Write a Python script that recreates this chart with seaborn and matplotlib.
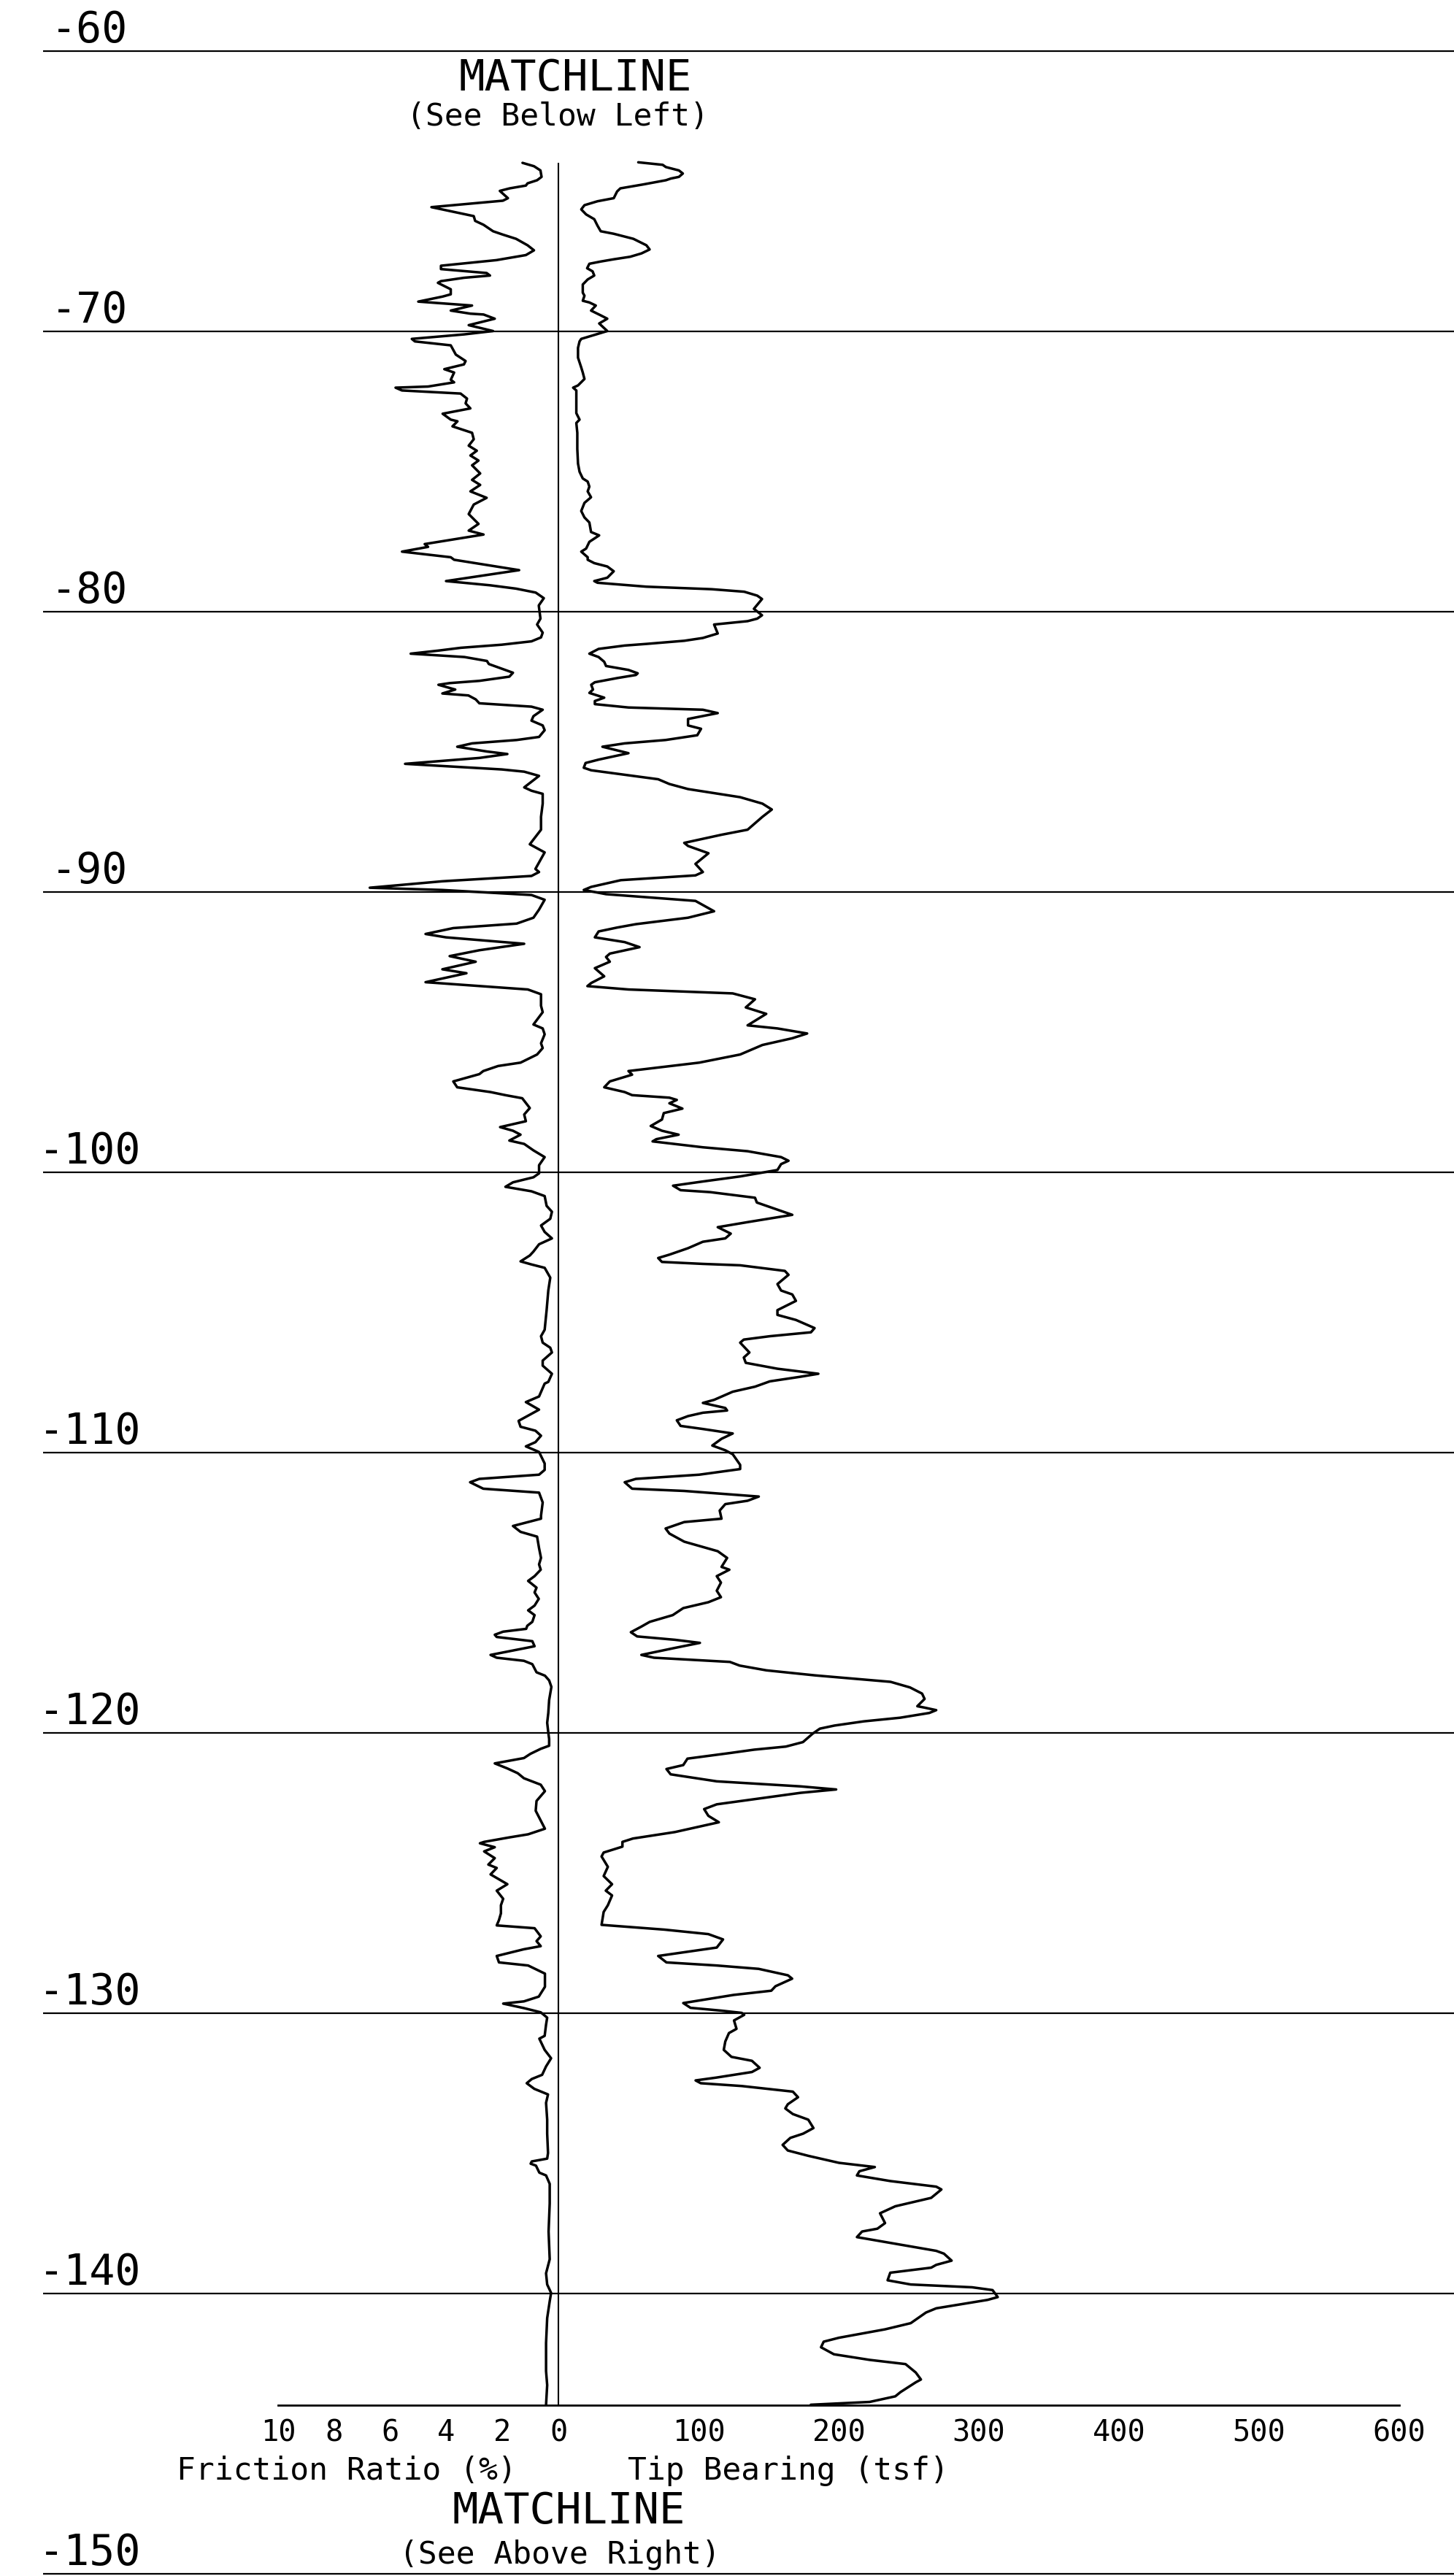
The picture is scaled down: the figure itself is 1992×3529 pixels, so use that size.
import matplotlib
matplotlib.use("Agg")
import matplotlib.pyplot as plt
import seaborn as sns

sns.set_style("white")
plt.rcParams["font.family"] = ["DejaVu Sans Mono", "DejaVu Sans"]
plt.rcParams["text.color"] = "black"

# ---- data (depth in ft, friction ratio in %, tip bearing in tsf) ----
fr_depth = [
    -64.0, -64.12, -64.27, -64.5, -64.62, -64.73, -64.81, -64.91, -65.0, -65.26, -65.35, -65.58,
    -65.9, -66.07, -66.21, -66.44, -66.56, -66.71, -66.94, -67.12, -67.29, -67.47, -67.67, -67.79,
    -67.93, -68.02, -68.1, -68.22, -68.28, -68.51, -68.69, -68.77, -68.95, -69.09, -69.27, -69.38,
    -69.41, -69.56, -69.79, -70.0, -70.12, -70.28, -70.37, -70.51, -70.84, -71.07, -71.19, -71.36,
    -71.48, -71.74, -71.83, -71.98, -72.02, -72.12, -72.23, -72.41, -72.58, -72.76, -72.95, -73.16,
    -73.22, -73.4, -73.63, -73.86, -74.09, -74.27, -74.44, -74.62, -74.79, -75.08, -75.31, -75.49,
    -75.72, -75.95, -76.19, -76.53, -76.88, -77.12, -77.26, -77.6, -77.7, -77.87, -78.07, -78.16,
    -78.53, -78.92, -79.07, -79.19, -79.33, -79.53, -79.79, -80.26,
    -80.47, -80.76, -80.93, -81.07, -81.19, -81.3, -81.4, -81.51, -81.63, -81.77, -81.88, -82.19,
    -82.33, -82.48, -82.56, -82.62, -82.79, -82.93, -83.0, -83.14, -83.28, -83.4, -83.51, -83.74,
    -83.9, -84.07, -84.24, -84.48, -84.59, -84.71, -84.83, -85.0, -85.09, -85.23, -85.44, -85.64,
    -85.72, -85.87, -86.28, -86.4, -86.51, -86.86, -87.33, -87.79, -88.31, -88.6, -89.19, -89.3,
    -89.44, -89.63, -89.86, -89.94, -90.12, -90.29, -90.64, -90.93, -91.14, -91.3, -91.51, -91.63,
    -91.86, -92.09, -92.3, -92.5, -92.77, -92.91, -93.23, -93.49, -93.66, -94.07, -94.3, -94.74,
    -94.88, -95.09, -95.41, -95.58, -95.81, -96.1, -96.22, -96.4, -96.51, -96.77, -96.98, -97.15,
    -97.26, -97.37, -97.72, -97.95, -98.19, -98.4, -98.53, -98.67, -98.88, -99.0, -99.23, -99.47,
    -99.76, -100.05, -100.19, -100.37, -100.53, -100.69, -100.86, -101.21, -101.42, -101.67, -101.91, -102.14,
    -102.37, -102.58, -102.84, -102.98, -103.19, -103.3, -103.42, -103.77, -104.23, -104.93, -105.63, -105.86,
    -106.09, -106.27, -106.44, -106.73, -106.91, -107.2, -107.49, -107.55, -108.01, -108.21, -108.48, -108.88,
    -109.09, -109.23, -109.41, -109.64, -109.79, -109.99, -110.4, -110.63, -110.8, -110.95, -111.07, -111.3,
    -111.44, -111.79, -112.26, -112.37, -112.63, -112.84, -113.01, -113.42, -113.77, -114.0,
    -114.19, -114.42, -114.59, -114.83, -115.0, -115.23, -115.47, -115.64, -115.81, -116.05, -116.19, -116.3,
    -116.4, -116.51, -116.59, -116.74, -116.92, -116.98, -117.23, -117.33, -117.44, -117.56, -117.85, -117.97,
    -118.14, -118.37, -118.84, -119.3, -119.65, -120.0, -120.23, -120.47, -120.58, -120.76, -120.91, -121.1,
    -121.16, -121.28, -121.45, -121.63, -121.86, -122.09, -122.44, -122.79, -123.14, -123.43, -123.63, -123.74,
    -123.9, -123.95, -124.09, -124.24, -124.48, -124.71, -124.83, -125.06, -125.41, -125.64, -125.93, -126.16,
    -126.45, -126.69, -126.88, -126.98, -127.27, -127.44, -127.62, -127.73, -127.97, -128.2, -128.31, -128.6,
    -129.07, -129.42, -129.59, -129.67, -129.83, -129.98,
    -130.17, -130.42, -130.82, -130.92, -131.32, -131.62, -131.91, -132.21, -132.36, -132.51, -132.71, -132.91,
    -133.21, -133.81, -134.31, -135.0, -135.2, -135.3, -135.38, -135.45, -135.7, -135.8, -136.1, -136.8,
    -137.8, -138.79, -139.29, -139.69, -139.99, -140.29, -140.89, -141.78, -142.78, -143.28, -143.98,
]
fr_value = [
    1.28, 0.87, 0.64, 0.60, 0.76, 1.10, 1.16, 1.74, 2.09, 1.80, 1.98, 4.53,
    3.02, 2.97, 2.67, 2.33, 1.98, 1.51, 1.10, 0.87, 1.16, 2.21, 4.19, 4.19,
    2.56, 2.44, 3.37, 4.19, 4.30, 3.84, 3.84, 4.13, 5.00, 3.08, 3.84, 3.14,
    2.67, 2.27, 3.20, 2.33, 3.37, 5.23, 5.12, 3.84, 3.66, 3.31, 3.37, 4.07,
    3.72, 3.84, 3.72, 4.65, 5.81, 5.58, 3.49, 3.26, 3.31, 3.14, 4.13, 3.84,
    3.60, 3.78, 3.08, 3.02, 3.20, 2.91, 3.14, 2.85, 3.08, 2.79, 3.08, 2.79,
    3.14, 2.56, 3.02, 3.20, 2.85, 3.20, 2.67, 4.77, 4.65, 5.58, 3.84, 3.72,
    1.40, 4.01, 2.44, 1.51, 0.81, 0.52, 0.70, 0.64,
    0.76, 0.56, 0.62, 0.96, 2.02, 3.48, 4.28, 5.27, 3.35, 2.55, 2.48, 1.62,
    1.75, 2.82, 3.88, 4.28, 3.68, 4.14, 3.21, 2.95, 2.82, 0.96, 0.56, 0.89,
    0.96, 0.56, 0.49, 0.69, 1.49, 3.08, 3.61, 2.55, 1.82, 2.82, 5.47, 2.02,
    1.22, 0.69, 1.22, 0.96, 0.56, 0.56, 0.62, 0.62, 1.02, 0.49, 0.82, 0.69,
    0.96, 4.14, 6.73, 4.14, 0.96, 0.49, 0.69, 0.89, 1.49, 3.75, 4.74, 4.01,
    1.22, 2.82, 3.88, 2.95, 4.14, 3.28, 4.74, 1.09, 0.62, 0.62, 0.56, 0.89,
    0.56, 0.49, 0.62, 0.56, 0.76, 1.35, 2.15, 2.68, 2.82, 3.75, 3.61, 2.42,
    1.89, 1.29, 1.02, 1.22, 1.16, 2.08, 1.62, 1.35, 1.75, 1.22, 0.89, 0.49,
    0.69, 0.69, 0.89, 1.62, 1.89, 0.96, 0.49, 0.42, 0.23, 0.29, 0.62, 0.49,
    0.23, 0.69, 0.89, 1.02, 1.35, 0.96, 0.49, 0.29, 0.36, 0.42, 0.49, 0.62,
    0.56, 0.29, 0.23, 0.56, 0.56, 0.23, 0.36, 0.49, 0.69, 1.16, 0.69, 1.42,
    1.35, 0.82, 0.62, 0.82, 1.16, 0.69, 0.49, 0.49, 0.69, 2.82, 3.15, 2.68,
    0.69, 0.56, 0.62, 0.62, 1.62, 1.35, 0.76, 0.69, 0.62, 0.69,
    0.63, 0.85, 1.08, 0.78, 0.85, 0.70, 0.85, 1.08, 0.85, 0.93, 1.11, 1.15,
    1.97, 2.27, 2.20, 0.93, 0.85, 1.15, 2.42, 2.20, 1.23, 0.93, 0.78, 0.48,
    0.33, 0.25, 0.33, 0.36, 0.40, 0.36, 0.33, 0.33, 0.63, 1.00, 1.23, 2.27,
    2.12, 1.82, 1.45, 1.23, 0.63, 0.48, 0.78, 0.81, 0.63, 0.48, 1.08, 1.75,
    2.65, 2.80, 2.27, 2.65, 2.27, 2.50, 2.20, 2.42, 1.82, 2.20, 1.97, 2.05,
    2.05, 2.12, 2.20, 0.85, 0.63, 0.78, 0.63, 1.23, 2.20, 2.12, 1.08, 0.48,
    0.48, 0.70, 1.23, 1.97, 1.23, 0.63,
    0.40, 0.44, 0.49, 0.68, 0.49, 0.26, 0.44, 0.58, 0.95, 1.13, 0.86, 0.37,
    0.44, 0.40, 0.40, 0.37, 0.40, 0.95, 0.99, 0.80, 0.68, 0.44, 0.31, 0.31,
    0.35, 0.31, 0.44, 0.40, 0.26, 0.31, 0.40, 0.44, 0.44, 0.40, 0.44,
]

tip_depth = [
    -63.98, -64.07, -64.15, -64.27, -64.38, -64.5, -64.56, -64.62, -64.77, -64.91, -65.02, -65.14,
    -65.26, -65.37, -65.51, -65.66, -65.84, -66.01, -66.24, -66.44, -66.53, -66.71, -66.94, -67.09,
    -67.23, -67.35, -67.44, -67.52, -67.6, -67.76, -67.87, -68.02, -68.16, -68.34, -68.63, -68.74,
    -68.92, -68.98, -69.09, -69.27, -69.44, -69.56, -69.73, -70.0, -70.14, -70.28, -70.37, -70.6,
    -70.95, -71.3, -71.48, -71.71, -71.94, -72.02, -72.12, -72.47, -72.93, -73.16, -73.28, -73.63,
    -74.21, -74.73, -75.02, -75.26, -75.37, -75.55, -75.72, -75.93, -76.13, -76.42, -76.65, -76.83,
    -77.17, -77.29, -77.52, -77.76, -77.87, -78.07, -78.16, -78.28, -78.4, -78.57, -78.8, -78.92,
    -78.98, -79.12, -79.21, -79.3, -79.44, -79.56, -79.91, -80.14, -80.26,
    -80.35, -80.47, -80.79, -80.95, -81.05, -81.16, -81.22, -81.34, -81.51, -81.63, -81.8, -81.95,
    -82.09, -82.21, -82.27, -82.38, -82.53, -82.62, -82.79, -82.91, -83.08, -83.2, -83.31, -83.43,
    -83.51, -83.63, -83.84, -84.07, -84.19, -84.42, -84.59, -84.71, -84.83, -85.06, -85.29, -85.41,
    -85.58, -85.67, -85.99, -86.16, -86.34, -86.63, -86.86, -87.07, -87.33, -87.56, -87.79, -87.97,
    -88.26, -88.37, -88.63, -89.01, -89.3, -89.42, -89.59, -89.83, -89.94, -90.09, -90.33, -90.7,
    -90.93, -91.16, -91.28, -91.42, -91.63, -91.8, -91.98, -92.21, -92.33, -92.5, -92.73, -93.02,
    -93.26, -93.37, -93.49, -93.63, -93.84, -94.13, -94.36, -94.77, -94.88, -95.06, -95.23, -95.47,
    -95.81, -96.1, -96.4, -96.53, -96.77, -96.98, -97.15,
    -97.26, -97.35, -97.43, -97.55, -97.74, -97.9, -98.13, -98.36, -98.53, -98.67, -98.83, -98.91,
    -99.12, -99.26, -99.47, -99.6, -99.72, -99.93, -100.16, -100.34, -100.49, -100.65, -100.72, -100.92,
    -101.09, -101.53, -101.79, -101.97, -102.2, -102.37, -102.49, -102.72, -102.95, -103.07, -103.21, -103.28,
    -103.33, -103.53, -103.67, -104.0, -104.23, -104.37, -104.6, -104.93, -105.1, -105.28, -105.57, -105.72,
    -105.86, -105.98, -106.09, -106.44, -106.62, -106.81, -107.02, -107.2, -107.31, -107.47, -107.66, -107.84,
    -108.13, -108.24, -108.42, -108.51, -108.59, -108.71, -108.86, -109.06, -109.17, -109.33, -109.52, -109.76,
    -109.93, -110.07, -110.45, -110.6, -110.8, -110.95, -111.07, -111.3, -111.38, -111.58, -111.73, -111.85,
    -112.08, -112.37, -112.49, -112.72, -112.9, -113.19, -113.53, -113.77, -114.09,
    -114.19, -114.42, -114.65, -114.94, -115.17, -115.35, -115.56, -115.81, -116.05, -116.22, -116.42, -116.57,
    -116.69, -116.8, -116.98, -117.23, -117.33,
    -117.48, -117.61, -117.78, -117.96, -118.07, -118.19, -118.39, -118.61, -118.8, -119.06, -119.11, -119.2,
    -119.3, -119.47, -119.6, -119.75, -119.86, -120.04, -120.34, -120.5, -120.61, -120.73,
    -120.93, -121.16, -121.3, -121.49, -121.74, -121.92, -122.03, -122.15, -122.56, -122.73, -122.97, -123.2,
    -123.55, -123.78, -123.9, -124.07, -124.28, -124.42, -124.79, -125.12, -125.41, -125.64, -125.81, -126.16,
    -126.4, -126.86, -127.03, -127.19, -127.38, -127.67, -127.97, -128.2, -128.31, -128.43, -128.66, -128.78,
    -129.05, -129.21, -129.36, -129.65,
    -129.82, -129.92, -130.0, -130.07, -130.27, -130.57, -130.72, -131.02, -131.32, -131.57, -131.71, -131.96,
    -132.11, -132.31, -132.41, -132.51, -132.61, -132.81, -133.01, -133.26, -133.41, -133.61, -133.81, -134.11,
    -134.31, -134.46, -134.71, -134.91, -135.1, -135.35, -135.5, -135.65, -135.8, -136.0, -136.2, -136.3,
    -136.6, -136.9, -137.15, -137.5, -137.7, -137.8, -138.0, -138.3, -138.49, -138.59, -138.84, -138.99,
    -139.09, -139.27, -139.54, -139.69, -139.79, -139.89, -140.14, -140.24, -140.54, -140.69, -141.07, -141.29,
    -141.59, -141.73, -141.93, -142.18, -142.38, -142.53, -142.83, -143.08, -143.18, -143.53, -143.68, -143.88,
    -143.98,
]
tip_value = [
    57.0, 74.4, 76.7, 86.0, 88.8, 86.0, 80.2, 76.7, 60.5, 44.2, 41.9, 40.7,
    39.5, 27.9, 18.6, 16.3, 19.8, 25.6, 27.9, 30.2, 39.5, 53.5, 62.8, 65.1,
    59.3, 51.2, 39.5, 30.2, 22.1, 20.5, 24.4, 25.6, 20.9, 17.4, 17.4, 18.6,
    17.4, 22.1, 26.7, 23.3, 30.2, 34.9, 29.1, 34.9, 25.6, 16.3, 15.1, 14.0,
    14.0, 16.3, 17.4, 18.6, 14.0, 10.5, 12.8, 12.8, 12.8, 15.1, 12.8, 13.5,
    13.5, 14.0, 15.1, 17.4, 20.9, 22.1, 20.9, 23.3, 18.6, 16.3, 18.6, 22.1,
    23.3, 29.1, 22.1, 19.8, 16.3, 20.9, 20.9, 25.6, 34.9, 39.5, 34.9, 25.6,
    27.9, 62.8, 109.3, 132.6, 141.9, 145.3, 139.5, 145.3, 141.9,
    135.0, 111.1, 113.7, 103.1, 89.8, 63.2, 47.3, 28.7, 22.1, 28.7, 32.7, 34.0,
    50.0, 56.6, 55.3, 42.0, 26.0, 23.4, 24.7, 22.1, 32.7, 26.0, 26.0, 50.0,
    103.1, 113.7, 92.5, 92.5, 101.8, 99.1, 76.5, 47.3, 31.4, 50.0, 28.7, 19.4,
    18.1, 23.4, 71.2, 79.2, 92.5, 129.7, 145.6, 152.3, 145.6, 140.3, 135.0, 116.4,
    89.8, 92.5, 107.1, 97.8, 103.1, 97.8, 44.6, 23.4, 18.1, 34.0, 97.8, 111.1,
    92.5, 55.3, 42.0, 28.7, 26.0, 47.3, 57.9, 36.7, 34.0, 36.7, 26.0, 32.7,
    23.4, 20.7, 50.0, 124.4, 140.3, 133.7, 148.3, 135.0, 156.3, 177.5, 166.9, 145.6,
    129.7, 100.5, 50.0, 52.6, 36.7, 32.7, 47.3,
    52.6, 79.2, 84.5, 79.2, 88.5, 75.2, 73.9, 65.9, 73.9, 85.8, 69.9, 67.2,
    103.1, 135.0, 158.9, 164.2, 158.9, 156.3, 129.7, 103.1, 81.8, 87.2, 108.4, 140.3,
    141.6, 166.9, 135.0, 113.7, 123.0, 119.1, 103.1, 92.5, 79.2, 71.2, 73.9, 103.1,
    129.7, 161.6, 164.2, 156.3, 158.9, 166.9, 169.5, 156.3, 156.3, 169.5, 182.8, 180.2,
    150.9, 132.3, 129.7, 136.3, 132.3, 133.7, 156.3, 185.5, 172.2, 150.9, 140.3, 124.4,
    111.1, 103.1, 119.1, 120.4, 103.1, 92.5, 84.5, 87.2, 103.1, 124.4, 116.4, 109.8,
    119.1, 124.4, 129.7, 129.7, 100.5, 55.3, 47.3, 52.6, 89.8, 143.0, 135.0, 119.1,
    115.1, 116.4, 89.8, 76.5, 79.2, 89.8, 113.7, 120.4, 116.4,
    122.0, 113.0, 116.0, 113.0, 116.0, 107.0, 89.1, 81.6, 65.2, 59.2, 51.7, 56.2,
    83.1, 101.0, 83.1, 59.2, 68.2,
    122.4, 129.3, 148.4, 183.2, 209.2, 237.0, 250.9, 259.5, 261.3, 256.1, 261.3, 269.6,
    264.7, 243.9, 217.9, 197.0, 186.6, 181.4, 174.5, 162.3, 139.7, 122.4,
    92.1, 89.1, 77.1, 80.1, 113.0, 172.8, 198.2, 172.8, 113.0, 104.0, 107.0, 114.5,
    83.1, 53.2, 45.7, 45.7, 32.3, 30.8, 35.3, 32.3, 38.3, 33.8, 38.3, 35.3,
    32.3, 30.8, 75.6, 107.0, 117.5, 113.0, 71.2, 77.1, 113.0, 142.9, 163.8, 166.8,
    154.9, 151.9, 125.0, 89.1,
    94.3, 116.2, 130.8, 132.6, 125.3, 127.1, 121.7, 119.1, 118.0, 123.5, 138.1, 143.6,
    138.1, 112.5, 97.9, 101.6, 130.8, 167.3, 171.0, 163.7, 161.9, 167.3, 178.3, 182.0,
    174.6, 165.5, 160.0, 163.7, 178.3, 200.2, 225.8, 214.8, 213.0, 236.8, 269.6, 273.3,
    266.0, 240.4, 229.5, 233.1, 227.6, 216.7, 213.0, 247.7, 269.6, 275.1, 280.6, 269.6,
    266.0, 236.8, 234.9, 251.4, 295.2, 309.8, 313.5, 306.2, 269.6, 262.3, 251.4, 233.1,
    200.2, 189.3, 187.4, 196.6, 222.1, 247.7, 255.0, 258.7, 255.0, 244.1, 240.4, 222.1,
    180.1,
]

elev_lines = [-60, -70, -80, -90, -100, -110, -120, -130, -140, -150]
fr_ticks = [10, 8, 6, 4, 2, 0]
tip_ticks = [100, 200, 300, 400, 500, 600]

# friction ratio shares the tip bearing axis: 1 % = 20 tsf, drawn to the left of zero
FR_SCALE = 20.0
fr_x = [-FR_SCALE * v for v in fr_value]
tick_pos = [-FR_SCALE * t for t in fr_ticks] + tip_ticks
tick_lbl = [str(t) for t in fr_ticks] + [str(t) for t in tip_ticks]

fig = plt.figure(figsize=(19.92, 35.29), dpi=100)
ax = fig.add_axes([0, 0, 1, 1])
ax.set_xlim(-398.44, 639.06)
ax.set_ylim(-150.09, -58.19)
ax.axis("off")

# elevation grid
ax.hlines(elev_lines, -367.7, 639.06, color="black", linewidth=1.6)
for e in elev_lines:
    ax.text(-334.4, e + 0.3125, str(e), ha="center", va="baseline", fontsize=42)

# zero line between the two logs
ax.vlines(0, -144.0, -64.0, color="black", linewidth=1.5)

sns.lineplot(x=fr_x, y=fr_depth, sort=False, estimator=None, color="black",
             linewidth=2.5, ax=ax)
sns.lineplot(x=tip_value, y=tip_depth, sort=False, estimator=None, color="black",
             linewidth=2.5, ax=ax)

# matchline notes
ax.text(12.0, -61.42, "MATCHLINE", ha="center", va="baseline", fontsize=42.5)
ax.text(-0.5, -62.67, "(See Below Left)", ha="center", va="baseline", fontsize=31)
ax.text(7.3, -148.22, "MATCHLINE", ha="center", va="baseline", fontsize=42.5)
ax.text(0.8, -149.65, "(See Above Right)", ha="center", va="baseline", fontsize=31)

# axis titles
ax.text(-151.0, -146.65, "Friction Ratio (%)", ha="center", va="baseline", fontsize=31)
ax.text(164.1, -146.65, "Tip Bearing (tsf)", ha="center", va="baseline", fontsize=31)

# bottom scale
ax2 = fig.add_axes([381 / 1992, 234 / 3529, 1536 / 1992, 0.01])
ax2.set_facecolor("none")
ax2.set_xlim(-200, 600)
ax2.set_yticks([])
for side in ["top", "left", "right"]:
    ax2.spines[side].set_visible(False)
ax2.spines["bottom"].set_linewidth(2.0)
ax2.spines["bottom"].set_color("black")
ax2.set_xticks(tick_pos)
ax2.set_xticklabels(tick_lbl)
ax2.tick_params(axis="x", direction="out", length=12.2, width=1.4, pad=1,
                labelsize=29, colors="black")

fig.savefig("out.png", dpi=100)
